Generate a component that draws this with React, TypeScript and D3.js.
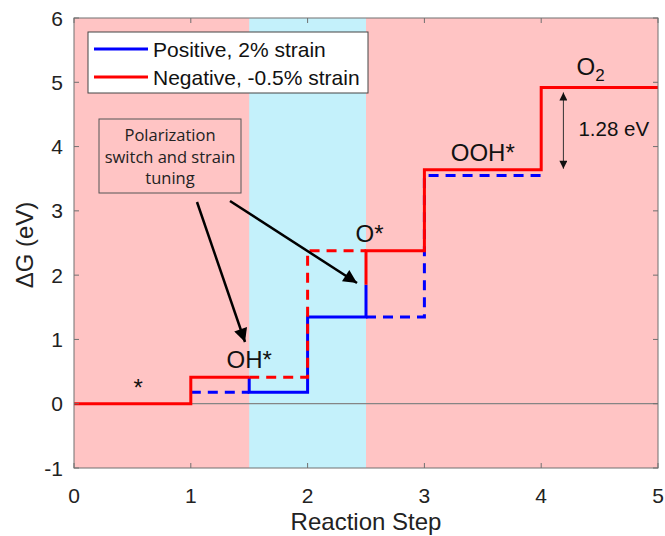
import React from "react";
import * as d3 from "d3";

// Reaction coordinate axis and free-energy levels (eV)
const xTicks = [0, 1, 2, 3, 4, 5];
const yTicks = [-1, 0, 1, 2, 3, 4, 5, 6];

// Negative polarization, -0.5% strain: levels at *, OH*, O*, OOH*, O2
const negLevels = [0, 0.41, 2.38, 3.64, 4.92];
// Positive polarization, 2% strain: levels at *, OH*, O*, OOH*
const posLevels = [0, 0.18, 1.35, 3.55];
// Point on the O* step where the active branch switches from positive to negative
const switchLevel = 1.85;

// Shaded span where the positive-polarization state is used
const posSpan = [1.5, 2.5];

const stateLabels = ["*", "OH*", "O*", "OOH*"];
const stateLabelX = [0.55, 1.5, 2.53, 3.5];
const limitingGap = 1.28;

const W = 665;
const H = 536;
const x0 = 74;
const x1 = 658;
const yTop = 18;
const yBot = 468;

const FONT = "'Liberation Sans', Arial, sans-serif";
const PINK = "#ffc4c4";
const CYAN = "#c4f1fb";
const RED = "#ff0000";
const BLUE = "#0000ff";

export default function App() {
  const x = d3.scaleLinear().domain([0, 5]).range([x0, x1]);
  const y = d3.scaleLinear().domain([-1, 6]).range([yBot, yTop]);
  const line = d3
    .line<[number, number]>()
    .x((d) => x(d[0]))
    .y((d) => y(d[1]));

  type Seg = { pts: [number, number][]; color: string; dashed: boolean };

  const N = negLevels;
  const P = posLevels;
  const blueSegs: Seg[] = [
    { pts: [[1, P[1]], [1.5, P[1]]], color: BLUE, dashed: true },
    {
      pts: [
        [1.5, N[1]],
        [1.5, P[1]],
        [2, P[1]],
        [2, P[2]],
        [2.5, P[2]],
        [2.5, switchLevel],
      ],
      color: BLUE,
      dashed: false,
    },
    {
      pts: [[2.5, P[2]], [3, P[2]], [3, P[3]], [4, P[3]]],
      color: BLUE,
      dashed: true,
    },
  ];
  const redSegs: Seg[] = [
    {
      pts: [[0, N[0]], [1, N[0]], [1, N[1]], [1.5, N[1]]],
      color: RED,
      dashed: false,
    },
    {
      pts: [[1.5, N[1]], [2, N[1]], [2, N[2]], [2.5, N[2]]],
      color: RED,
      dashed: true,
    },
    {
      pts: [
        [2.5, switchLevel],
        [2.5, N[2]],
        [3, N[2]],
        [3, N[3]],
        [4, N[3]],
        [4, N[4]],
        [5, N[4]],
      ],
      color: RED,
      dashed: false,
    },
  ];

  const axisColor = "#707070";
  const tickLen = 5;
  const gapX = 4.19;

  return (
    <svg
      width={W}
      height={H}
      style={{ position: "absolute", left: 0, top: 0, background: "#fff" }}
      fontFamily={FONT}
    >
      <defs>
        <marker
          id="bigHead"
          viewBox="0 0 10 10"
          refX="10"
          refY="5"
          markerWidth="7"
          markerHeight="5.4"
          markerUnits="strokeWidth"
          orient="auto"
        >
          <path d="M0,0 L10,5 L0,10 z" fill="#000" />
        </marker>
        <marker
          id="smallHead"
          viewBox="0 0 10 10"
          refX="10"
          refY="5"
          markerWidth="11"
          markerHeight="8"
          markerUnits="userSpaceOnUse"
          orient="auto-start-reverse"
        >
          <path d="M0,0 L10,5 L0,10 z" fill="#111" />
        </marker>
      </defs>

      {/* backgrounds */}
      <rect x={x(0)} y={y(6)} width={x(5) - x(0)} height={y(-1) - y(6)} fill={PINK} />
      <rect
        x={x(posSpan[0])}
        y={y(6)}
        width={x(posSpan[1]) - x(posSpan[0])}
        height={y(-1) - y(6)}
        fill={CYAN}
      />

      {/* zero reference */}
      <line x1={x(0)} x2={x(5)} y1={y(0)} y2={y(0)} stroke="#858585" strokeWidth={1.2} />

      {/* energy profiles */}
      {[...blueSegs, ...redSegs].map((s, i) => (
        <path
          key={i}
          d={line(s.pts) || ""}
          fill="none"
          stroke={s.color}
          strokeWidth={3}
          strokeDasharray={s.dashed ? "10 7" : undefined}
          strokeLinejoin="miter"
        />
      ))}

      {/* axes box and ticks */}
      <rect
        x={x(0)}
        y={y(6)}
        width={x(5) - x(0)}
        height={y(-1) - y(6)}
        fill="none"
        stroke={axisColor}
        strokeWidth={1}
      />
      {xTicks.map((t) => (
        <g key={"x" + t}>
          <line x1={x(t)} x2={x(t)} y1={yBot} y2={yBot - tickLen} stroke={axisColor} />
          <line x1={x(t)} x2={x(t)} y1={yTop} y2={yTop + tickLen} stroke={axisColor} />
          <text x={x(t)} y={yBot + 35} fontSize={21} textAnchor="middle" fill="#222">
            {t}
          </text>
        </g>
      ))}
      {yTicks.map((t) => (
        <g key={"y" + t}>
          <line x1={x0} x2={x0 + tickLen} y1={y(t)} y2={y(t)} stroke={axisColor} />
          <line x1={x1} x2={x1 - tickLen} y1={y(t)} y2={y(t)} stroke={axisColor} />
          <text x={x0 - 11} y={y(t) + 7.5} fontSize={21} textAnchor="end" fill="#222">
            {t}
          </text>
        </g>
      ))}
      <text x={(x0 + x1) / 2} y={530} fontSize={24} textAnchor="middle" fill="#222">
        Reaction Step
      </text>
      <text
        transform={`translate(33,${(yTop + yBot) / 2 + 2}) rotate(-90)`}
        fontSize={24}
        textAnchor="middle"
        fill="#222"
      >
        ΔG (eV)
      </text>

      {/* state labels */}
      {stateLabels.map((s, i) => (
        <text
          key={s}
          x={x(stateLabelX[i])}
          y={y(N[i]) - (i === 0 ? 8 : 9)}
          fontSize={24}
          textAnchor="middle"
          fill="#111"
        >
          {s}
        </text>
      ))}
      <text x={x(4.5) - 9} y={y(N[4]) - 12} fontSize={24} textAnchor="middle" fill="#111">
        O
        <tspan fontSize={17} dy={6}>
          2
        </tspan>
      </text>

      {/* limiting step gap */}
      <line
        x1={x(gapX)}
        x2={x(gapX)}
        y1={y(N[4]) + 5}
        y2={y(N[4] - limitingGap) - 1}
        stroke="#333"
        strokeWidth={1}
        markerStart="url(#smallHead)"
        markerEnd="url(#smallHead)"
      />
      <text x={x(gapX) + 15} y={y(N[4] - limitingGap / 2) + 7} fontSize={20.5} fill="#111">
        {limitingGap.toFixed(2)} eV
      </text>

      {/* legend */}
      <rect x={88} y={32} width={280} height={61} fill="#fff" stroke="#444" strokeWidth={1} />
      <line x1={94} x2={148} y1={49} y2={49} stroke={BLUE} strokeWidth={3} />
      <text x={153} y={57} fontSize={21} fill="#111">
        Positive, 2% strain
      </text>
      <line x1={94} x2={148} y1={77} y2={77} stroke={RED} strokeWidth={3} />
      <text x={153} y={85} fontSize={21} fill="#111">
        Negative, -0.5% strain
      </text>

      {/* annotation */}
      <rect x={99} y={119} width={142} height={74} fill={PINK} stroke="#555" strokeWidth={1} />
      <g fontFamily="'Open Sans', 'Noto Sans', sans-serif" fontSize={16.5} fill="#222" textAnchor="middle">
        <text x={170} y={141}>Polarization</text>
        <text x={170} y={163}>switch and strain</text>
        <text x={170} y={184}>tuning</text>
      </g>
      <line
        x1={197}
        y1={202}
        x2={245}
        y2={342}
        stroke="#000"
        strokeWidth={2.5}
        markerEnd="url(#bigHead)"
      />
      <line
        x1={230}
        y1={201}
        x2={357}
        y2={283}
        stroke="#000"
        strokeWidth={2.5}
        markerEnd="url(#bigHead)"
      />
    </svg>
  );
}
